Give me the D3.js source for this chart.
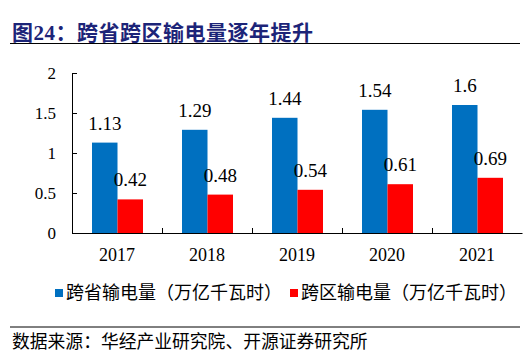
<!DOCTYPE html>
<html><head><meta charset="utf-8">
<script src="https://cdn.jsdelivr.net/npm/d3@7/dist/d3.min.js"></script>
<style>body{margin:0;background:#fff}svg{display:block}</style>
</head><body>
<script>
const years = ["2017","2018","2019","2020","2021"];
const provincial = [1.13,1.29,1.44,1.54,1.6];
const regional = [0.42,0.48,0.54,0.61,0.69];
const seriesNames = ["跨省输电量（万亿千瓦时）","跨区输电量（万亿千瓦时）"];
const colors = ["#0070C0","#FF0000"];
const yTicks = [0,0.5,1,1.5,2];

const W=525,H=357;
const svg=d3.select("body").append("svg").attr("width",W).attr("height",H);
const serif='"Liberation Serif","Times New Roman",serif';
const cjk='"Liberation Serif","Noto Sans CJK SC",sans-serif';

// title
svg.append("text").attr("x",12).attr("y",40).attr("fill","#1C2478")
  .attr("font-family",cjk).attr("font-weight","bold").attr("font-size",21)
  .attr("letter-spacing",0.5)
  .text("图24：跨省跨区输电量逐年提升");
svg.append("line").attr("x1",10).attr("x2",520).attr("y1",43.5).attr("y2",43.5).attr("stroke","#000").attr("stroke-width",1.2);

const x=d3.scaleBand().domain(years).range([72,522]).paddingInner(0).paddingOuter(0);
const y=d3.scaleLinear().domain([0,2]).range([233,73]);
const inner=d3.scaleBand().domain([0,1]).range([20,71]);

const g=svg.append("g");
// y axis
const ya=g.append("g").attr("transform","translate(72,0)")
  .call(d3.axisLeft(y).tickValues(yTicks).tickSizeInner(-5).tickSizeOuter(0).tickPadding(16).tickFormat(d=>String(d)));
ya.select(".domain").attr("stroke","#000");
ya.selectAll("text").attr("font-family",serif).attr("font-size",17).attr("fill","#000");
// x axis
const xa=g.append("g").attr("transform","translate(0,233)")
  .call(d3.axisBottom(x).tickSize(0).tickPadding(15));
xa.select(".domain").attr("stroke","#000");
xa.selectAll("text").attr("font-family",serif).attr("font-size",18).attr("fill","#000");
// category separators (inner ticks)
g.selectAll(".sep").data(years.slice(1)).enter().append("line")
  .attr("x1",d=>x(d)+0.5).attr("x2",d=>x(d)+0.5).attr("y1",233).attr("y2",228).attr("stroke","#000");

const series=[provincial,regional];
series.forEach((vals,si)=>{
  g.selectAll(".bar"+si).data(vals).enter().append("rect")
    .attr("x",(d,i)=>x(years[i])+inner(si)).attr("width",inner.bandwidth())
    .attr("y",d=>y(d)).attr("height",d=>y(0)-y(d)).attr("fill",colors[si]);
  g.selectAll(".lab"+si).data(vals).enter().append("text")
    .attr("x",(d,i)=>x(years[i])+inner(si)+inner.bandwidth()/2)
    .attr("y",d=>y(d)-13).attr("text-anchor","middle")
    .attr("font-family",serif).attr("font-size",19).attr("fill","#000")
    .text(d=>String(d));
});

// legend
const legX=[55,290];
seriesNames.forEach((n,i)=>{
  svg.append("rect").attr("x",legX[i]).attr("y",289).attr("width",8).attr("height",8).attr("fill",colors[i]);
  svg.append("text").attr("x",legX[i]+11).attr("y",299).attr("font-family",cjk).attr("font-size",18).attr("fill","#000").text(n);
});

svg.append("line").attr("x1",10).attr("x2",520).attr("y1",327).attr("y2",327).attr("stroke","#000").attr("stroke-width",1);
svg.append("text").attr("x",12).attr("y",348).attr("font-family",cjk).attr("font-size",17.8).attr("fill","#000")
  .text("数据来源：华经产业研究院、开源证券研究所");
</script>
</body></html>
